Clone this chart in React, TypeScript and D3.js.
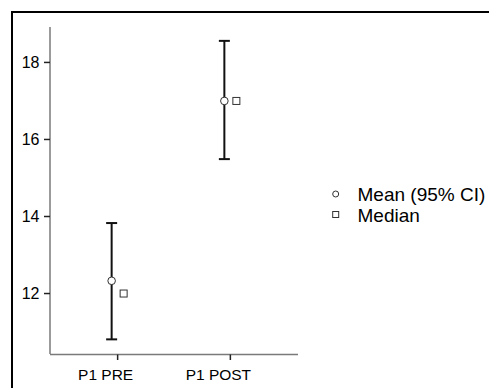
import React from "react";
import * as d3 from "d3";

const categories = ["P1 PRE", "P1 POST"];
const means = [12.33, 17.0];
const lowerCI = [10.81, 15.49];
const upperCI = [13.83, 18.56];
const medians = [12.0, 17.0];
const yTicks = [12, 14, 16, 18];
const legendLabels = ["Mean (95% CI)", "Median"];

const W = 489;
const H = 388;
const FONT = "'Liberation Sans', Arial, sans-serif";

export default function App() {
  const y = d3.scaleLinear().domain([10.43, 18.92]).range([354, 27]);
  const x = d3.scalePoint<string>().domain(categories).range([50, 298]).padding(0.6);
  const dodge = 6;
  const cap = 5.5;

  return (
    <svg
      width={W}
      height={H}
      style={{ position: "fixed", left: 0, top: 0, background: "#fff" }}
    >
      <rect x={0} y={0} width={W} height={H} fill="#fff" />
      <rect x={12} y={12} width={600} height={500} fill="none" stroke="#000" strokeWidth={2} />

      {/* y axis */}
      <line x1={50} x2={50} y1={y.range()[1]} y2={y.range()[0]} stroke="#7a7a7a" strokeWidth={1.5} />
      {yTicks.map((t) => (
        <g key={t}>
          <line x1={44} x2={50} y1={y(t)} y2={y(t)} stroke="#222" strokeWidth={1.5} />
          <text
            x={39.5}
            y={y(t)}
            dy="0.35em"
            textAnchor="end"
            fontFamily={FONT}
            fontSize={16}
            fill="#000"
          >
            {t}
          </text>
        </g>
      ))}

      {/* x axis */}
      <line x1={50} x2={298} y1={354.5} y2={354.5} stroke="#7a7a7a" strokeWidth={1.5} />
      {categories.map((c) => (
        <g key={c}>
          <line x1={x(c)} x2={x(c)} y1={354.5} y2={360} stroke="#222" strokeWidth={1.5} />
          <text
            x={(x(c) as number) - 12}
            y={380}
            textAnchor="middle"
            fontFamily={FONT}
            fontSize={15.5}
            fill="#000"
          >
            {c}
          </text>
        </g>
      ))}

      {/* error bars and means */}
      {categories.map((c, i) => {
        const cx = (x(c) as number) - dodge;
        return (
          <g key={"m" + c}>
            <line x1={cx} x2={cx} y1={y(upperCI[i])} y2={y(lowerCI[i])} stroke="#111" strokeWidth={2} />
            <line x1={cx - cap} x2={cx + cap} y1={y(upperCI[i])} y2={y(upperCI[i])} stroke="#111" strokeWidth={2} />
            <line x1={cx - cap} x2={cx + cap} y1={y(lowerCI[i])} y2={y(lowerCI[i])} stroke="#111" strokeWidth={2} />
            <circle cx={cx} cy={y(means[i])} r={3.8} fill="#fff" stroke="#333" strokeWidth={1} />
          </g>
        );
      })}

      {/* medians */}
      {categories.map((c, i) => {
        const cx = (x(c) as number) + dodge;
        return (
          <rect
            key={"md" + c}
            x={cx - 3.5}
            y={y(medians[i]) - 3.5}
            width={7}
            height={7}
            fill="#fff"
            stroke="#333"
            strokeWidth={1}
          />
        );
      })}

      {/* legend */}
      <circle cx={335.7} cy={194} r={3} fill="#fff" stroke="#333" strokeWidth={1} />
      <text x={357.5} y={201} fontFamily={FONT} fontSize={19} fill="#000">
        {legendLabels[0]}
      </text>
      <rect x={332.7} y={211.5} width={6} height={6} fill="#fff" stroke="#333" strokeWidth={1} />
      <text x={357.5} y={221.5} fontFamily={FONT} fontSize={19} fill="#000">
        {legendLabels[1]}
      </text>
    </svg>
  );
}
